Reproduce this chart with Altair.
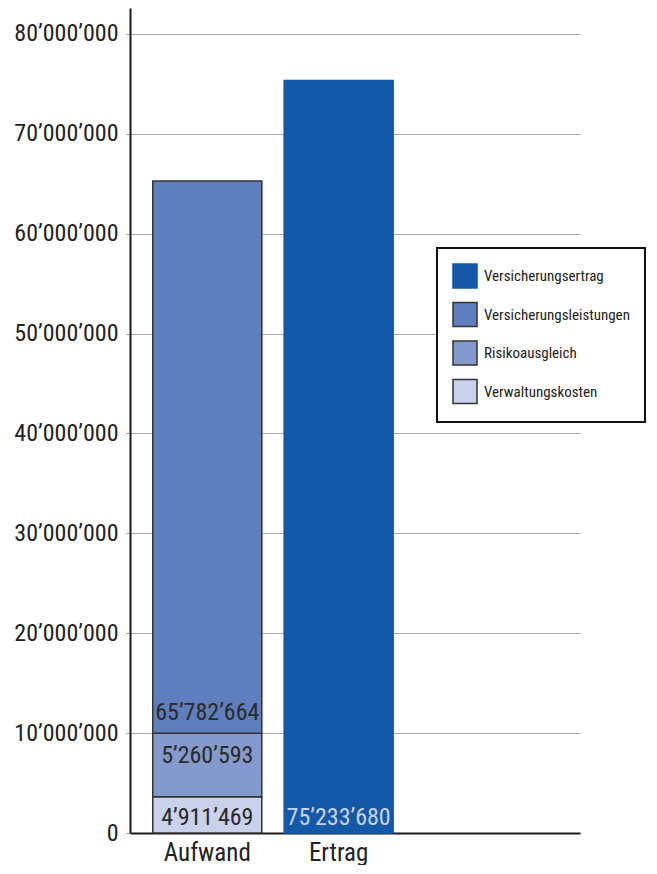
import altair as alt
import pandas as pd

# Legend categories and colours
kategorien = ["Versicherungsertrag", "Versicherungsleistungen", "Risikoausgleich", "Verwaltungskosten"]
farben = ["#1459a8", "#5f7ebd", "#8499cc", "#c9d1eb"]
rahmen = ["#1459a8", "#333333", "#333333", "#333333"]

# Bar segments
gruppe = ["Aufwand", "Aufwand", "Aufwand", "Ertrag"]
segment = ["Verwaltungskosten", "Risikoausgleich", "Versicherungsleistungen", "Versicherungsertrag"]
betrag = [3_630_000, 6_350_000, 55_300_000, 75_350_000]
stapel = [1, 2, 3, 1]

# Value labels printed inside the bars
beschriftung = ["4’911’469", "5’260’593", "65’782’664", "75’233’680"]
beschriftung_y = [1_550_000, 7_700_000, 12_000_000, 1_550_000]
beschriftung_farbe = ["#2a2a2a", "#2a2a2a", "#2a2a2a", "#c9d3ee"]

achsen_werte = [0, 10_000_000, 20_000_000, 30_000_000, 40_000_000,
                50_000_000, 60_000_000, 70_000_000, 80_000_000]

FONT = "Liberation Sans Narrow, Roboto Condensed, DejaVu Sans Condensed, sans-serif"

df = pd.DataFrame({"Gruppe": gruppe, "Kategorie": segment, "Betrag": betrag, "Ordnung": stapel})
df_lab = pd.DataFrame({"Gruppe": gruppe, "Text": beschriftung, "Y": beschriftung_y,
                       "Farbe": beschriftung_farbe})

x_scale = alt.Scale(domain=["Aufwand", "Ertrag"], paddingInner=0.17, paddingOuter=0.7977, align=0.1086)
y_scale = alt.Scale(domain=[0, 82_600_000], nice=False)

bars = alt.Chart(df).mark_bar(strokeWidth=1.5).encode(
    x=alt.X("Gruppe:N", scale=x_scale, sort=["Aufwand", "Ertrag"],
            axis=alt.Axis(title=None, labelAngle=0, ticks=False, labelFontSize=25,
                          labelPadding=7, domainColor="#1a1a1a", domainWidth=2,
                          labelColor="#222222", labelFont=FONT)),
    y=alt.Y("Betrag:Q", stack="zero", scale=y_scale,
            axis=alt.Axis(title=None, values=achsen_werte,
                          labelExpr="join(split(format(datum.value, ','), ','), '’')",
                          labelFontSize=24, labelFont=FONT, labelColor="#222222",
                          labelPadding=8, tickSize=4, tickColor="#999999",
                          grid=True, gridColor="#aaaaaa", gridWidth=1,
                          domainColor="#1a1a1a", domainWidth=2)),
    color=alt.Color("Kategorie:N", scale=alt.Scale(domain=kategorien, range=farben),
                    legend=alt.Legend(title=None, orient="none", legendX=307, legendY=240)),
    stroke=alt.Stroke("Kategorie:N", scale=alt.Scale(domain=kategorien, range=rahmen), legend=None),
    order=alt.Order("Ordnung:Q", sort="ascending"),
)

labels = alt.Chart(df_lab).mark_text(fontSize=24, font=FONT, baseline="middle", align="center").encode(
    x=alt.X("Gruppe:N", scale=x_scale, sort=["Aufwand", "Ertrag"]),
    y=alt.Y("Y:Q", scale=y_scale),
    text="Text:N",
    color=alt.Color("Farbe:N", scale=None),
)

chart = alt.layer(bars, labels).properties(
    width=450, height=825,
    padding={"left": 5, "top": 0, "right": 0, "bottom": 0},
).configure_view(
    stroke=None
).configure_legend(
    labelFont=FONT, labelFontSize=15, labelColor="#222222",
    symbolType="square", symbolSize=576, symbolStrokeColor="#222222", symbolStrokeWidth=1.5,
    padding=15, strokeColor="#111111", strokeWidth=2, fillColor="white",
    rowPadding=8.5, labelOffset=6, cornerRadius=0,
)

chart.save("out.html", embed_options={"renderer": "svg", "actions": False})
